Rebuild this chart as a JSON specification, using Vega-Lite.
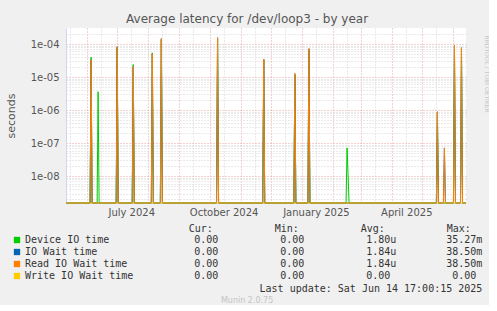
{
  "$schema": "https://vega.github.io/schema/vega-lite/v6.json",
  "background": "#f0f0f0",
  "padding": {"left": 5, "top": 13, "right": 0, "bottom": 0},
  "spacing": 6,
  "config": {"view": {"stroke": null}, "axis": {"labelOverlap": false}},
  "title": {"text": "Munin 2.0.75", "orient": "bottom", "anchor": "middle", "font": "DejaVu Sans", "fontSize": 8, "fontWeight": "normal", "color": "#c4c4c4", "offset": 3},
  "datasets": {
    "lat": [
      {"date": "2024-05-11T00:00:00", "series": "Device IO time", "value": 0},
      {"date": "2024-06-04T00:00:00", "series": "Device IO time", "value": 0},
      {"date": "2024-06-05T00:00:00", "series": "Device IO time", "value": 4.0e-5},
      {"date": "2024-06-06T00:00:00", "series": "Device IO time", "value": 0},
      {"date": "2024-06-11T00:00:00", "series": "Device IO time", "value": 0},
      {"date": "2024-06-12T00:00:00", "series": "Device IO time", "value": 3.6e-6},
      {"date": "2024-06-13T00:00:00", "series": "Device IO time", "value": 0},
      {"date": "2024-06-30T00:00:00", "series": "Device IO time", "value": 0},
      {"date": "2024-07-01T00:00:00", "series": "Device IO time", "value": 7.5e-5},
      {"date": "2024-07-02T00:00:00", "series": "Device IO time", "value": 0},
      {"date": "2024-07-16T00:00:00", "series": "Device IO time", "value": 0},
      {"date": "2024-07-17T00:00:00", "series": "Device IO time", "value": 2.4e-5},
      {"date": "2024-07-18T00:00:00", "series": "Device IO time", "value": 0},
      {"date": "2024-08-04T00:00:00", "series": "Device IO time", "value": 0},
      {"date": "2024-08-05T00:00:00", "series": "Device IO time", "value": 5.4e-5},
      {"date": "2024-08-06T00:00:00", "series": "Device IO time", "value": 0},
      {"date": "2024-08-13T00:00:00", "series": "Device IO time", "value": 0},
      {"date": "2024-08-14T00:00:00", "series": "Device IO time", "value": 1.3e-4},
      {"date": "2024-08-15T00:00:00", "series": "Device IO time", "value": 0},
      {"date": "2024-10-08T00:00:00", "series": "Device IO time", "value": 0},
      {"date": "2024-10-09T00:00:00", "series": "Device IO time", "value": 1.4e-4},
      {"date": "2024-10-10T00:00:00", "series": "Device IO time", "value": 0},
      {"date": "2024-11-23T00:00:00", "series": "Device IO time", "value": 0},
      {"date": "2024-11-24T00:00:00", "series": "Device IO time", "value": 3.2e-5},
      {"date": "2024-11-25T00:00:00", "series": "Device IO time", "value": 0},
      {"date": "2024-12-24T00:00:00", "series": "Device IO time", "value": 0},
      {"date": "2024-12-25T00:00:00", "series": "Device IO time", "value": 1.1e-5},
      {"date": "2024-12-26T00:00:00", "series": "Device IO time", "value": 0},
      {"date": "2025-01-07T00:00:00", "series": "Device IO time", "value": 0},
      {"date": "2025-01-08T00:00:00", "series": "Device IO time", "value": 6.5e-5},
      {"date": "2025-01-09T00:00:00", "series": "Device IO time", "value": 0},
      {"date": "2025-02-14T00:00:00", "series": "Device IO time", "value": 0},
      {"date": "2025-02-15T00:00:00", "series": "Device IO time", "value": 7.2e-8},
      {"date": "2025-02-16T00:00:00", "series": "Device IO time", "value": 1.2e-8},
      {"date": "2025-02-17T00:00:00", "series": "Device IO time", "value": 0},
      {"date": "2025-05-15T00:00:00", "series": "Device IO time", "value": 0},
      {"date": "2025-05-16T00:00:00", "series": "Device IO time", "value": 8.0e-7},
      {"date": "2025-05-17T00:00:00", "series": "Device IO time", "value": 0},
      {"date": "2025-06-01T00:00:00", "series": "Device IO time", "value": 0},
      {"date": "2025-06-02T00:00:00", "series": "Device IO time", "value": 8.2e-5},
      {"date": "2025-06-03T00:00:00", "series": "Device IO time", "value": 0},
      {"date": "2025-06-08T00:00:00", "series": "Device IO time", "value": 0},
      {"date": "2025-06-09T00:00:00", "series": "Device IO time", "value": 7.0e-5},
      {"date": "2025-06-10T00:00:00", "series": "Device IO time", "value": 0},
      {"date": "2025-06-13T12:00:00", "series": "Device IO time", "value": 0},

      {"date": "2024-05-11T00:00:00", "series": "IO Wait time", "value": 0},
      {"date": "2024-06-04T00:00:00", "series": "IO Wait time", "value": 0},
      {"date": "2024-06-05T00:00:00", "series": "IO Wait time", "value": 3.3e-5},
      {"date": "2024-06-06T00:00:00", "series": "IO Wait time", "value": 0},
      {"date": "2024-06-30T00:00:00", "series": "IO Wait time", "value": 0},
      {"date": "2024-07-01T00:00:00", "series": "IO Wait time", "value": 8.3e-5},
      {"date": "2024-07-02T00:00:00", "series": "IO Wait time", "value": 0},
      {"date": "2024-07-16T00:00:00", "series": "IO Wait time", "value": 0},
      {"date": "2024-07-17T00:00:00", "series": "IO Wait time", "value": 2.1e-5},
      {"date": "2024-07-18T00:00:00", "series": "IO Wait time", "value": 0},
      {"date": "2024-08-04T00:00:00", "series": "IO Wait time", "value": 0},
      {"date": "2024-08-05T00:00:00", "series": "IO Wait time", "value": 5.1e-5},
      {"date": "2024-08-06T00:00:00", "series": "IO Wait time", "value": 0},
      {"date": "2024-08-13T00:00:00", "series": "IO Wait time", "value": 0},
      {"date": "2024-08-14T00:00:00", "series": "IO Wait time", "value": 1.45e-4},
      {"date": "2024-08-15T00:00:00", "series": "IO Wait time", "value": 0},
      {"date": "2024-10-08T00:00:00", "series": "IO Wait time", "value": 0},
      {"date": "2024-10-09T00:00:00", "series": "IO Wait time", "value": 1.55e-4},
      {"date": "2024-10-10T00:00:00", "series": "IO Wait time", "value": 0},
      {"date": "2024-11-23T00:00:00", "series": "IO Wait time", "value": 0},
      {"date": "2024-11-24T00:00:00", "series": "IO Wait time", "value": 3.5e-5},
      {"date": "2024-11-25T00:00:00", "series": "IO Wait time", "value": 0},
      {"date": "2024-12-24T00:00:00", "series": "IO Wait time", "value": 0},
      {"date": "2024-12-25T00:00:00", "series": "IO Wait time", "value": 1.26e-5},
      {"date": "2024-12-26T00:00:00", "series": "IO Wait time", "value": 0},
      {"date": "2025-01-07T00:00:00", "series": "IO Wait time", "value": 0},
      {"date": "2025-01-08T00:00:00", "series": "IO Wait time", "value": 7.2e-5},
      {"date": "2025-01-09T00:00:00", "series": "IO Wait time", "value": 0},
      {"date": "2025-05-15T00:00:00", "series": "IO Wait time", "value": 0},
      {"date": "2025-05-16T00:00:00", "series": "IO Wait time", "value": 8.9e-7},
      {"date": "2025-05-17T00:00:00", "series": "IO Wait time", "value": 0},
      {"date": "2025-05-22T00:00:00", "series": "IO Wait time", "value": 0},
      {"date": "2025-05-23T00:00:00", "series": "IO Wait time", "value": 7.2e-8},
      {"date": "2025-05-24T00:00:00", "series": "IO Wait time", "value": 0},
      {"date": "2025-06-01T00:00:00", "series": "IO Wait time", "value": 0},
      {"date": "2025-06-02T00:00:00", "series": "IO Wait time", "value": 9.1e-5},
      {"date": "2025-06-03T00:00:00", "series": "IO Wait time", "value": 0},
      {"date": "2025-06-08T00:00:00", "series": "IO Wait time", "value": 0},
      {"date": "2025-06-09T00:00:00", "series": "IO Wait time", "value": 7.7e-5},
      {"date": "2025-06-10T00:00:00", "series": "IO Wait time", "value": 0},
      {"date": "2025-06-13T12:00:00", "series": "IO Wait time", "value": 0},

      {"date": "2024-05-11T00:00:00", "series": "Read IO Wait time", "value": 0},
      {"date": "2024-06-04T00:00:00", "series": "Read IO Wait time", "value": 0},
      {"date": "2024-06-05T00:00:00", "series": "Read IO Wait time", "value": 3.3e-5},
      {"date": "2024-06-06T00:00:00", "series": "Read IO Wait time", "value": 0},
      {"date": "2024-06-30T00:00:00", "series": "Read IO Wait time", "value": 0},
      {"date": "2024-07-01T00:00:00", "series": "Read IO Wait time", "value": 8.3e-5},
      {"date": "2024-07-02T00:00:00", "series": "Read IO Wait time", "value": 0},
      {"date": "2024-07-16T00:00:00", "series": "Read IO Wait time", "value": 0},
      {"date": "2024-07-17T00:00:00", "series": "Read IO Wait time", "value": 2.1e-5},
      {"date": "2024-07-18T00:00:00", "series": "Read IO Wait time", "value": 0},
      {"date": "2024-08-04T00:00:00", "series": "Read IO Wait time", "value": 0},
      {"date": "2024-08-05T00:00:00", "series": "Read IO Wait time", "value": 5.1e-5},
      {"date": "2024-08-06T00:00:00", "series": "Read IO Wait time", "value": 0},
      {"date": "2024-08-13T00:00:00", "series": "Read IO Wait time", "value": 0},
      {"date": "2024-08-14T00:00:00", "series": "Read IO Wait time", "value": 1.45e-4},
      {"date": "2024-08-15T00:00:00", "series": "Read IO Wait time", "value": 0},
      {"date": "2024-10-08T00:00:00", "series": "Read IO Wait time", "value": 0},
      {"date": "2024-10-09T00:00:00", "series": "Read IO Wait time", "value": 1.55e-4},
      {"date": "2024-10-10T00:00:00", "series": "Read IO Wait time", "value": 0},
      {"date": "2024-11-23T00:00:00", "series": "Read IO Wait time", "value": 0},
      {"date": "2024-11-24T00:00:00", "series": "Read IO Wait time", "value": 3.5e-5},
      {"date": "2024-11-25T00:00:00", "series": "Read IO Wait time", "value": 0},
      {"date": "2024-12-24T00:00:00", "series": "Read IO Wait time", "value": 0},
      {"date": "2024-12-25T00:00:00", "series": "Read IO Wait time", "value": 1.26e-5},
      {"date": "2024-12-26T00:00:00", "series": "Read IO Wait time", "value": 0},
      {"date": "2025-01-07T00:00:00", "series": "Read IO Wait time", "value": 0},
      {"date": "2025-01-08T00:00:00", "series": "Read IO Wait time", "value": 7.2e-5},
      {"date": "2025-01-09T00:00:00", "series": "Read IO Wait time", "value": 0},
      {"date": "2025-05-15T00:00:00", "series": "Read IO Wait time", "value": 0},
      {"date": "2025-05-16T00:00:00", "series": "Read IO Wait time", "value": 8.9e-7},
      {"date": "2025-05-17T00:00:00", "series": "Read IO Wait time", "value": 0},
      {"date": "2025-05-22T00:00:00", "series": "Read IO Wait time", "value": 0},
      {"date": "2025-05-23T00:00:00", "series": "Read IO Wait time", "value": 7.2e-8},
      {"date": "2025-05-24T00:00:00", "series": "Read IO Wait time", "value": 0},
      {"date": "2025-06-01T00:00:00", "series": "Read IO Wait time", "value": 0},
      {"date": "2025-06-02T00:00:00", "series": "Read IO Wait time", "value": 9.1e-5},
      {"date": "2025-06-03T00:00:00", "series": "Read IO Wait time", "value": 0},
      {"date": "2025-06-08T00:00:00", "series": "Read IO Wait time", "value": 0},
      {"date": "2025-06-09T00:00:00", "series": "Read IO Wait time", "value": 7.7e-5},
      {"date": "2025-06-10T00:00:00", "series": "Read IO Wait time", "value": 0},
      {"date": "2025-06-13T12:00:00", "series": "Read IO Wait time", "value": 0},

      {"date": "2024-05-11T00:00:00", "series": "Write IO Wait time", "value": 0},
      {"date": "2025-06-13T12:00:00", "series": "Write IO Wait time", "value": 0}
    ],
    "stats": [
      {"series": "Device IO time", "stat": "Cur:", "num": "0.00", "unit": ""},
      {"series": "Device IO time", "stat": "Min:", "num": "0.00", "unit": ""},
      {"series": "Device IO time", "stat": "Avg:", "num": "1.80", "unit": "u"},
      {"series": "Device IO time", "stat": "Max:", "num": "35.27", "unit": "m"},
      {"series": "IO Wait time", "stat": "Cur:", "num": "0.00", "unit": ""},
      {"series": "IO Wait time", "stat": "Min:", "num": "0.00", "unit": ""},
      {"series": "IO Wait time", "stat": "Avg:", "num": "1.84", "unit": "u"},
      {"series": "IO Wait time", "stat": "Max:", "num": "38.50", "unit": "m"},
      {"series": "Read IO Wait time", "stat": "Cur:", "num": "0.00", "unit": ""},
      {"series": "Read IO Wait time", "stat": "Min:", "num": "0.00", "unit": ""},
      {"series": "Read IO Wait time", "stat": "Avg:", "num": "1.84", "unit": "u"},
      {"series": "Read IO Wait time", "stat": "Max:", "num": "38.50", "unit": "m"},
      {"series": "Write IO Wait time", "stat": "Cur:", "num": "0.00", "unit": ""},
      {"series": "Write IO Wait time", "stat": "Min:", "num": "0.00", "unit": ""},
      {"series": "Write IO Wait time", "stat": "Avg:", "num": "0.00", "unit": ""},
      {"series": "Write IO Wait time", "stat": "Max:", "num": "0.00", "unit": ""}
    ]
  },
  "vconcat": [
    {
      "width": 400,
      "height": 175,
      "view": {"fill": "#ffffff", "stroke": null},
      "title": {"text": "Average latency for /dev/loop3 - by year", "anchor": "middle", "frame": "bounds", "font": "DejaVu Sans", "fontSize": 12, "fontWeight": "normal", "color": "#555555", "offset": 2},
      "data": {"name": "lat"},
      "resolve": {"axis": {"y": "independent"}},
      "encoding": {
        "x": {
          "field": "date", "type": "temporal",
          "scale": {"domain": [{"year": 2024, "month": 5, "date": 11}, {"year": 2025, "month": 6, "date": 13, "hours": 12}]},
          "axis": {
            "title": null,
            "values": [
              {"year": 2024, "month": 5, "date": 15},
              {"year": 2024, "month": 6, "date": 1}, {"year": 2024, "month": 6, "date": 15},
              {"year": 2024, "month": 7, "date": 1}, {"year": 2024, "month": 7, "date": 15},
              {"year": 2024, "month": 8, "date": 1}, {"year": 2024, "month": 8, "date": 15},
              {"year": 2024, "month": 9, "date": 1}, {"year": 2024, "month": 9, "date": 15},
              {"year": 2024, "month": 10, "date": 1}, {"year": 2024, "month": 10, "date": 15},
              {"year": 2024, "month": 11, "date": 1}, {"year": 2024, "month": 11, "date": 15},
              {"year": 2024, "month": 12, "date": 1}, {"year": 2024, "month": 12, "date": 15},
              {"year": 2025, "month": 1, "date": 1}, {"year": 2025, "month": 1, "date": 15},
              {"year": 2025, "month": 2, "date": 1}, {"year": 2025, "month": 2, "date": 15},
              {"year": 2025, "month": 3, "date": 1}, {"year": 2025, "month": 3, "date": 15},
              {"year": 2025, "month": 4, "date": 1}, {"year": 2025, "month": 4, "date": 15},
              {"year": 2025, "month": 5, "date": 1}, {"year": 2025, "month": 5, "date": 15},
              {"year": 2025, "month": 6, "date": 1}
            ],
            "labelExpr": "date(datum.value) == 15 && month(datum.value) % 3 == 0 ? timeFormat(datum.value, '%B %Y') : ''",
            "labelOverlap": false,
            "labelFlush": false,
            "labelFont": "DejaVu Sans", "labelFontSize": 10, "labelColor": "#555555", "labelPadding": 4,
            "ticks": false, "tickSize": 0,
            "grid": true,
            "gridColor": {"condition": {"test": "date(datum.value) == 1", "value": "#eba3a3"}, "value": "#d4d4d4"},
            "gridDash": [1, 2],
            "domainColor": "#cfd6f8"
          }
        }
      },
      "layer": [
        {
          "encoding": {
            "y": {
              "field": "value", "type": "quantitative",
              "scale": {"type": "log", "domain": [1.55e-9, 3.05e-4], "clamp": true, "nice": false},
              "axis": {
                "values": [2e-9, 3e-9, 4e-9, 5e-9, 6e-9, 7e-9, 8e-9, 9e-9,
                           1e-8, 2e-8, 3e-8, 4e-8, 5e-8, 6e-8, 7e-8, 8e-8, 9e-8,
                           1e-7, 2e-7, 3e-7, 4e-7, 5e-7, 6e-7, 7e-7, 8e-7, 9e-7,
                           1e-6, 2e-6, 3e-6, 4e-6, 5e-6, 6e-6, 7e-6, 8e-6, 9e-6,
                           1e-5, 2e-5, 3e-5, 4e-5, 5e-5, 6e-5, 7e-5, 8e-5, 9e-5,
                           1e-4, 2e-4],
                "labelExpr": "abs(log(datum.value)/LN10 - round(log(datum.value)/LN10)) < 0.01 ? '1e-0' + (-round(log(datum.value)/LN10)) : ''",
                "labelOverlap": false,
                "labelFont": "DejaVu Sans", "labelFontSize": 10, "labelColor": "#555555", "labelPadding": 7,
                "ticks": false, "tickSize": 0,
                "grid": true,
                "gridColor": {"condition": {"test": "abs(log(datum.value)/LN10 - round(log(datum.value)/LN10)) < 0.01", "value": "#eba3a3"}, "value": "#d4d4d4"},
                "gridDash": [1, 2],
                "domainColor": "#cfd6f8",
                "title": "seconds", "titleFont": "DejaVu Sans", "titleFontSize": 11, "titleFontWeight": "normal", "titleColor": "#555555", "titlePadding": 14
              }
            }
          },
          "layer": [
            {"transform": [{"filter": "datum.series == 'Device IO time'"}], "mark": {"type": "line", "color": "#00cc00", "strokeWidth": 1}},
            {"transform": [{"filter": "datum.series == 'IO Wait time'"}], "mark": {"type": "line", "color": "#0066b3", "strokeWidth": 1}},
            {"transform": [{"filter": "datum.series == 'Read IO Wait time'"}], "mark": {"type": "line", "color": "#ff8000", "strokeWidth": 1}}
          ]
        },
        {
          "transform": [{"filter": "datum.series == 'Write IO Wait time'"}],
          "mark": {"type": "line", "color": "#ffcc00", "strokeWidth": 1, "opacity": 0.6},
          "encoding": {
            "y": {
              "field": "value", "type": "quantitative",
              "scale": {"type": "log", "domain": [1.55e-9, 3.05e-4], "clamp": true, "nice": false},
              "axis": {"orient": "right", "values": [], "labels": false, "ticks": false, "domain": false, "grid": false,
                       "title": "RRDTOOL / TOBI OETIKER", "titleFont": "DejaVu Sans", "titleFontSize": 6, "titleFontWeight": "normal",
                       "titleColor": "#c8c8c8", "titleAngle": 90, "titleAlign": "left", "titleBaseline": "middle", "titleX": 20, "titleY": 7}
            }
          }
        }
      ]
    },
    {
      "width": 416,
      "height": 48,
      "data": {"name": "stats"},
      "title": {"text": "Last update: Sat Jun 14 17:00:15 2025", "orient": "bottom", "anchor": "end", "font": "DejaVu Sans Mono", "fontSize": 10, "fontWeight": "normal", "color": "#333333", "offset": 2},
      "encoding": {
        "x": {
          "field": "stat", "type": "nominal",
          "scale": {"type": "point", "domain": ["Cur:", "Min:", "Avg:", "Max:"], "range": [152.3, 410.3], "padding": 0},
          "axis": {"orient": "top", "title": null, "domain": false, "ticks": false, "tickSize": 0, "labelAngle": 0, "labelAlign": "right", "labelOffset": -6, "labelPadding": 1, "labelFont": "DejaVu Sans Mono", "labelFontSize": 10, "labelColor": "#333333"}
        },
        "y": {
          "field": "series", "type": "nominal",
          "scale": {"type": "point", "domain": ["Device IO time", "IO Wait time", "Read IO Wait time", "Write IO Wait time"]},
          "axis": null
        }
      },
      "layer": [
        {
          "mark": {"type": "square", "opacity": 0},
          "encoding": {
            "color": {
              "field": "series", "type": "nominal",
              "scale": {"domain": ["Device IO time", "IO Wait time", "Read IO Wait time", "Write IO Wait time"], "range": ["#00cc00", "#0066b3", "#ff8000", "#ffcc00"]},
              "legend": {"title": null, "orient": "none", "legendX": -54, "legendY": 207, "symbolType": "square", "symbolSize": 40, "symbolOpacity": 1, "symbolStrokeWidth": 0, "labelFont": "DejaVu Sans Mono", "labelFontSize": 10, "labelColor": "#333333", "labelOffset": 3, "rowPadding": 2, "padding": 0}
            }
          }
        },
        {
          "mark": {"type": "text", "align": "right", "baseline": "middle", "font": "DejaVu Sans Mono", "fontSize": 10, "color": "#333333"},
          "encoding": {"text": {"field": "num", "type": "nominal"}}
        },
        {
          "mark": {"type": "text", "align": "left", "baseline": "middle", "font": "DejaVu Sans Mono", "fontSize": 10, "color": "#333333"},
          "encoding": {"text": {"field": "unit", "type": "nominal"}}
        }
      ]
    }
  ]
}
